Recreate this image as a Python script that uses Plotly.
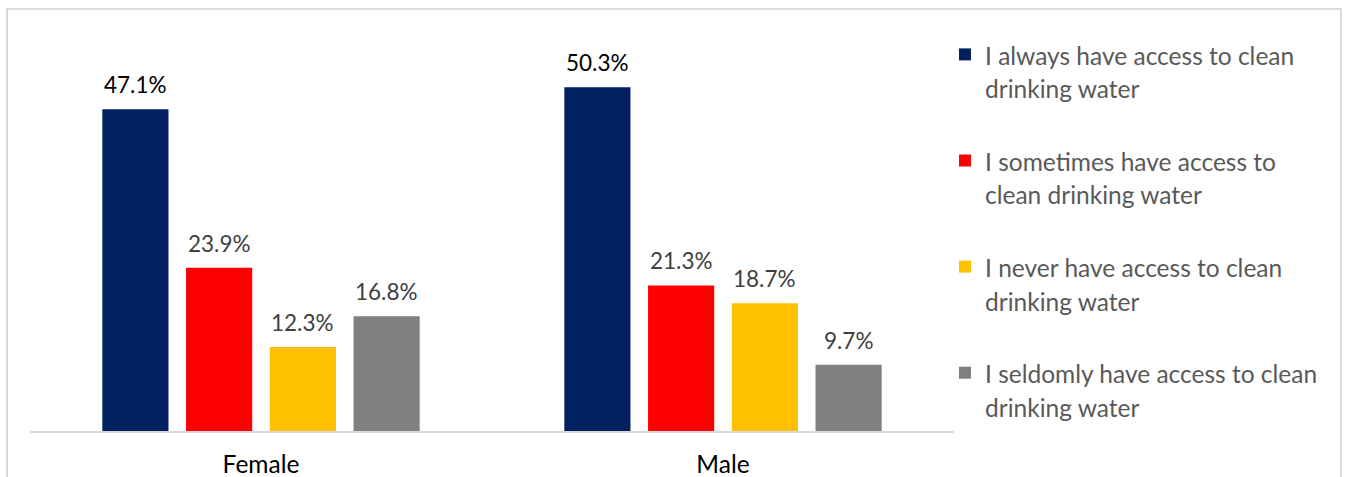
import plotly.graph_objects as go

categories = ["Female", "Male"]
series_names = [
    "I always have access to clean<br>drinking water",
    "I sometimes have access to<br>clean drinking water",
    "I never have access to clean<br>drinking water",
    "I seldomly have access to clean<br>drinking water",
]
always = [47.1, 50.3]
sometimes = [23.9, 21.3]
never = [12.3, 18.7]
seldomly = [16.8, 9.7]
series_values = [always, sometimes, never, seldomly]
colors = ["#002060", "#FF0000", "#FFC000", "#808080"]
label_colors = ["#000000", "#404040", "#404040", "#404040"]

FONT = "Lato"
BARGAP = 0.275
BARGROUPGAP = 0.21

fig = go.Figure()
n = len(series_values)
slot = (1 - BARGAP) / n
annotations = []
for i, (name, vals) in enumerate(zip(series_names, series_values)):
    lines = name.split("<br>")
    legend_name = "<br>".join(f'<span style="font-size:24.5px">{l}</span>' for l in lines)
    fig.add_trace(go.Bar(
        x=categories, y=vals, name=legend_name,
        marker=dict(color=colors[i], line=dict(width=0)),
        legendgroup=f"g{i}",
        hoverinfo="x+y",
    ))
    off = (i - (n - 1) / 2) * slot
    for ci, v in enumerate(vals):
        annotations.append(dict(
            x=ci + off, y=v, xref="x", yref="y",
            text=f"{v:.1f}%", showarrow=False,
            xanchor="center", yanchor="bottom", yshift=9,
            font=dict(family=FONT, size=22.5, color=label_colors[i]),
        ))

W, H = 1347, 477
ml, mr, mt, mb = 30, 393, 21, 46
pw, ph = W - ml - mr, H - mt - mb

def px_x(p):
    return (p - ml) / pw

def px_y(p):
    return (H - mb - p) / ph

fig.update_layout(
    width=W, height=H,
    margin=dict(l=ml, r=mr, t=mt, b=mb, autoexpand=False),
    paper_bgcolor="white", plot_bgcolor="white",
    barmode="group", bargap=BARGAP, bargroupgap=BARGROUPGAP,
    font=dict(family=FONT),
    showlegend=True,
    legend=dict(
        x=px_x(945), xanchor="left",
        y=px_y(31), yanchor="top",
        font=dict(family=FONT, size=26, color="#595959"),
        valign="top", tracegroupgap=35.5,
        bgcolor="rgba(0,0,0,0)",
        itemclick=False,
    ),
    xaxis=dict(
        showline=True, linecolor="#D9D9D9", linewidth=2,
        showgrid=False, ticks="", zeroline=False,
        ticklabelstandoff=11,
        tickfont=dict(family=FONT, size=24.5, color="#000000"),
    ),
    yaxis=dict(range=[0, 60], visible=False, showgrid=False, zeroline=False),
    annotations=annotations,
    shapes=[dict(
        type="rect", xref="paper", yref="paper",
        x0=px_x(7), x1=px_x(1341), y0=px_y(560), y1=px_y(9),
        line=dict(color="#D9D9D9", width=2), fillcolor="rgba(0,0,0,0)",
        layer="below",
    )],
)

fig.write_html("out.html", config={"displayModeBar": False},
               post_script="document.body.style.margin='0';")
